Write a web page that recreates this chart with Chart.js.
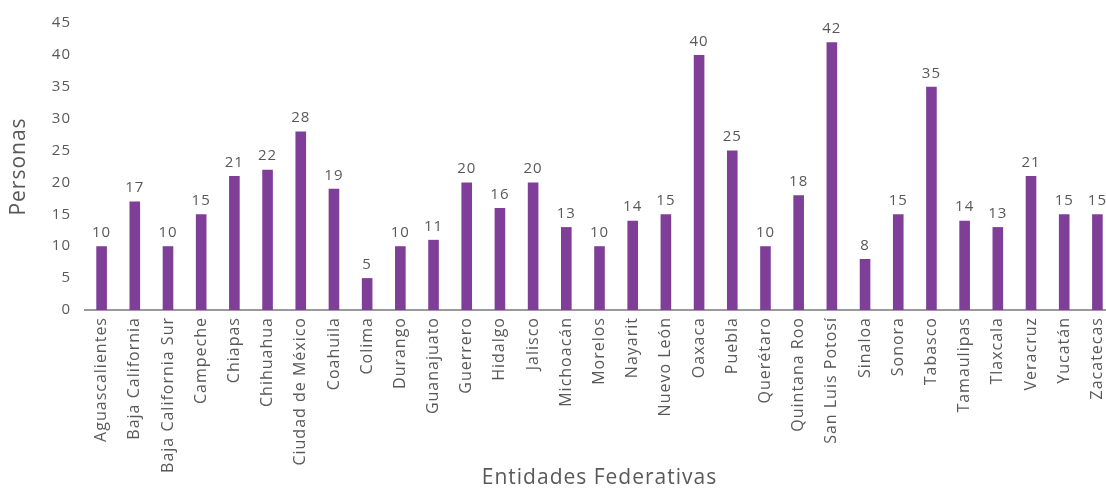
<!DOCTYPE html>
<html>
<head>
<meta charset="utf-8">
<script src="https://cdn.jsdelivr.net/npm/chart.js@4/dist/chart.umd.min.js"></script>
<style>
  html, body { margin: 0; padding: 0; background: #fff; overflow: hidden; }
</style>
</head>
<body>
<canvas id="barChart" width="1114" height="491"></canvas>
<script>
const estados = [
    'Aguascalientes', 'Baja California', 'Baja California Sur', 'Campeche', 'Chiapas',
    'Chihuahua', 'Ciudad de México', 'Coahuila', 'Colima', 'Durango', 'Guanajuato',
    'Guerrero', 'Hidalgo', 'Jalisco', 'Michoacán', 'Morelos', 'Nayarit', 'Nuevo León',
    'Oaxaca', 'Puebla', 'Querétaro', 'Quintana Roo', 'San Luis Potosí', 'Sinaloa',
    'Sonora', 'Tabasco', 'Tamaulipas', 'Tlaxcala', 'Veracruz', 'Yucatán', 'Zacatecas'
];
const personas = [
    10, 17, 10, 15, 21, 22, 28, 19, 5, 10, 11,
    20, 16, 20, 13, 10, 14, 15,
    40, 25, 10, 18, 42, 8,
    15, 35, 14, 13, 21, 15, 15
];
const yTicks = [0, 5, 10, 15, 20, 25, 30, 35, 40, 45];

const textColor = '#595959';
const barColor = '#7f3f98';
const fontFamily = '"Open Sans", sans-serif';

// wider tracking, closer to the original typeface
const tracking = {
    id: 'tracking',
    beforeLayout(chart) { chart.ctx.letterSpacing = '1px'; },
    beforeDraw(chart) { chart.ctx.letterSpacing = '1px'; }
};

// value labels above each bar
const valueLabels = {
    id: 'valueLabels',
    afterDatasetsDraw(chart) {
        const ctx = chart.ctx;
        const meta = chart.getDatasetMeta(0);
        ctx.save();
        ctx.font = '15px ' + fontFamily;
        ctx.fillStyle = textColor;
        ctx.textAlign = 'center';
        ctx.textBaseline = 'bottom';
        meta.data.forEach((bar, i) => {
            ctx.fillText(personas[i], bar.x, bar.y - 6);
        });
        ctx.restore();
    }
};

new Chart(document.getElementById('barChart'), {
    type: 'bar',
    data: {
        labels: estados,
        datasets: [{
            data: personas,
            backgroundColor: barColor,
            barPercentage: 0.32,
            categoryPercentage: 1
        }]
    },
    options: {
        responsive: false,
        animation: false,
        layout: { padding: { top: 20, right: 0, left: 0, bottom: 0 } },
        plugins: {
            legend: { display: false },
            tooltip: { enabled: false }
        },
        scales: {
            x: {
                grid: { display: false, drawTicks: false },
                border: { color: '#9a9a9a', width: 2 },
                ticks: {
                    color: textColor,
                    font: { family: fontFamily, size: 16 },
                    minRotation: 90,
                    maxRotation: 90,
                    autoSkip: false,
                    padding: 7
                },
                title: {
                    display: true,
                    text: 'Entidades Federativas',
                    color: textColor,
                    font: { family: fontFamily, size: 21 },
                    padding: { top: 4, bottom: 0 }
                },
                afterFit(scale) {
                    scale.height = 181;
                    // no extra room for the rotated end labels
                    scale.paddingLeft = 0;
                    scale.paddingRight = 0;
                }
            },
            y: {
                min: 0,
                max: 45,
                grid: { display: false, drawTicks: false },
                border: { display: false },
                afterBuildTicks(scale) {
                    scale.ticks = yTicks.map(v => ({ value: v }));
                },
                ticks: {
                    color: textColor,
                    font: { family: fontFamily, size: 15 },
                    padding: 14
                },
                title: {
                    display: true,
                    text: 'Personas',
                    color: textColor,
                    font: { family: fontFamily, size: 21 },
                    padding: { top: 6, bottom: 0 }
                },
                afterFit(scale) { scale.width = 85; }
            }
        }
    },
    plugins: [tracking, valueLabels]
});
</script>
</body>
</html>
